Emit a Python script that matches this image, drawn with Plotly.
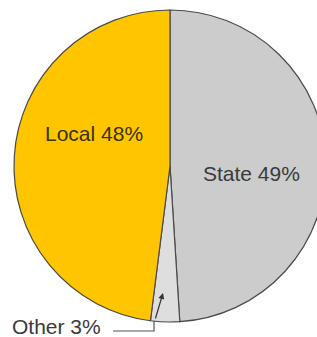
import plotly.graph_objects as go

labels = ["State", "Other", "Local"]
values = [49, 3, 48]
colors = ["#cccccc", "#dedede", "#ffc600"]
label_texts = ["State 49%", "Other 3%", "Local 48%"]

W, H = 330, 337
cx, cy, r = 170, 166, 156

def px(x):
    return x / W

def py(y):
    return 1 - y / H

fig = go.Figure(go.Pie(
    labels=labels,
    values=values,
    sort=False,
    direction="clockwise",
    rotation=0,
    marker=dict(colors=colors, line=dict(color="#4a4a4a", width=1.2)),
    textinfo="none",
    hoverinfo="label+percent",
    showlegend=False,
    domain=dict(x=[px(cx - r), px(cx + r)], y=[py(cy + r), py(cy - r)]),
))

font = dict(family="Liberation Sans, Arial, sans-serif", size=21, color="#3a3a3a")
common = dict(xref="paper", yref="paper", showarrow=False, xanchor="center", yanchor="middle")
fig.add_annotation(x=px(251), y=py(173), text=label_texts[0], font=font, **common)
fig.add_annotation(x=px(94), y=py(133), text=label_texts[2],
                   font=dict(font, color="#3d3200"), **common)
fig.add_annotation(x=px(56), y=py(326), text=label_texts[1], font=font, **common)
# leader line
fig.add_shape(type="path", xref="paper", yref="paper",
              path=f"M {px(113)} {py(331)} L {px(154)} {py(331)} L {px(154)} {py(321)}",
              line=dict(color="#555555", width=1.2))
fig.add_annotation(x=px(163), y=py(293), ax=-8, ay=27, xref="paper", yref="paper",
                   text="", showarrow=True,
                   arrowhead=2, arrowsize=1, arrowwidth=1.2, arrowcolor="#333333")

fig.update_layout(width=W, height=H, margin=dict(l=0, r=0, t=0, b=0),
                  paper_bgcolor="white", plot_bgcolor="white")

fig.write_html("out.html", config={"displayModeBar": False},
               post_script="document.body.style.margin='0';document.body.style.overflow='hidden';document.documentElement.style.overflow='hidden';")
